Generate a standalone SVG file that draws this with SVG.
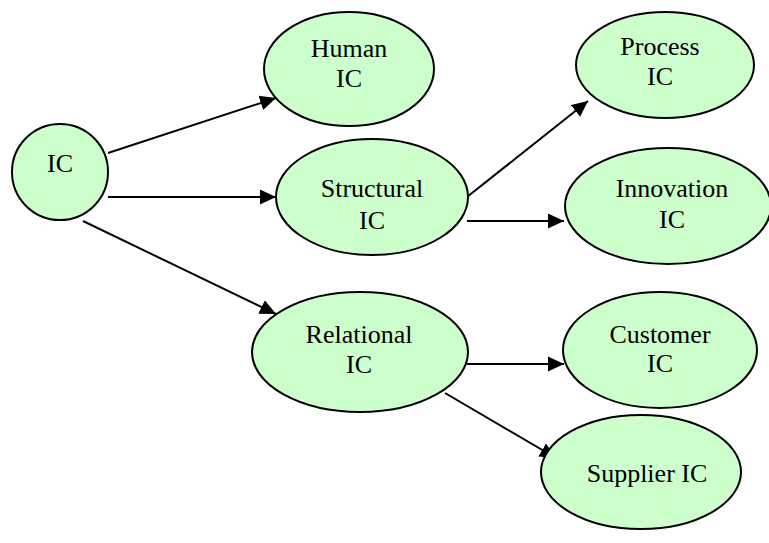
<svg xmlns="http://www.w3.org/2000/svg" width="769" height="543" viewBox="0 0 769 543">
  <defs>
    <style>
      .node { fill: #ccffcc; stroke: #000; stroke-width: 2; }
      .lbl { font-family: "Liberation Serif", "Times New Roman", serif; font-size: 26px; fill: #000; text-anchor: middle; }
      .edge { stroke: #000; stroke-width: 2; fill: none; marker-end: url(#arrow); }
    </style>
    <marker id="arrow" markerUnits="userSpaceOnUse" markerWidth="17" markerHeight="16" refX="16" refY="8" orient="auto">
      <path d="M0,0.5 L16,8 L0,15.5 Z" fill="#000"/>
    </marker>
  </defs>
  <rect width="769" height="543" fill="#fff"/>

  <g id="connectors">
    <line class="edge" x1="108" y1="153" x2="276" y2="98"/>
    <line class="edge" x1="108" y1="197" x2="276" y2="197"/>
    <line class="edge" x1="83" y1="221" x2="276" y2="314"/>
    <line class="edge" x1="467" y1="197" x2="588" y2="101"/>
    <line class="edge" x1="467" y1="221" x2="564" y2="221"/>
    <line class="edge" x1="467" y1="364" x2="564" y2="364"/>
    <line class="edge" x1="445" y1="393" x2="556" y2="458"/>
  </g>

  <g id="ic">
    <circle class="node" cx="60" cy="172" r="48"/>
    <text class="lbl" x="60" y="172">IC</text>
  </g>
  <g id="human-ic">
    <ellipse class="node" cx="349" cy="69" rx="85" ry="57"/>
    <text class="lbl" x="349" y="57">Human</text>
    <text class="lbl" x="349" y="87">IC</text>
  </g>
  <g id="structural-ic">
    <ellipse class="node" cx="372" cy="197" rx="96" ry="58"/>
    <text class="lbl" x="372" y="197">Structural</text>
    <text class="lbl" x="372" y="229">IC</text>
  </g>
  <g id="relational-ic">
    <ellipse class="node" cx="360" cy="352" rx="108" ry="60"/>
    <text class="lbl" x="359" y="343">Relational</text>
    <text class="lbl" x="359" y="373">IC</text>
  </g>
  <g id="process-ic">
    <ellipse class="node" cx="665" cy="65" rx="89" ry="53"/>
    <text class="lbl" x="660" y="55">Process</text>
    <text class="lbl" x="660" y="85">IC</text>
  </g>
  <g id="innovation-ic">
    <ellipse class="node" cx="668" cy="206" rx="103" ry="58"/>
    <text class="lbl" x="672" y="197">Innovation</text>
    <text class="lbl" x="672" y="228">IC</text>
  </g>
  <g id="customer-ic">
    <ellipse class="node" cx="660" cy="350" rx="97" ry="58"/>
    <text class="lbl" x="660" y="343">Customer</text>
    <text class="lbl" x="660" y="372">IC</text>
  </g>
  <g id="supplier-ic">
    <ellipse class="node" cx="641" cy="472" rx="100" ry="57"/>
    <text class="lbl" x="647" y="482">Supplier IC</text>
  </g>
</svg>
